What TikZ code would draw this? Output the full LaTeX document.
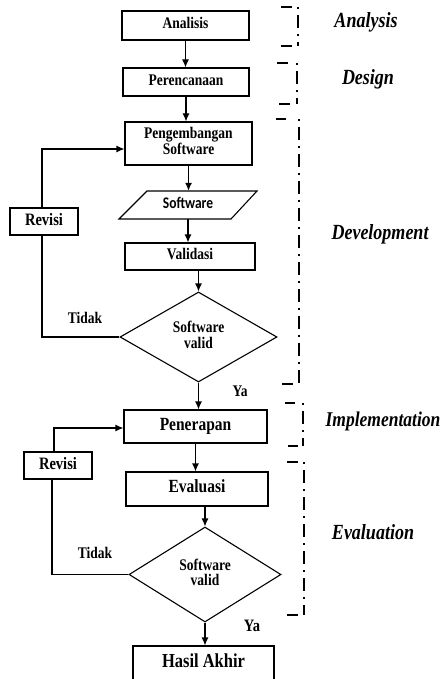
\documentclass[tikz,border=0pt]{standalone}
\usepackage{fontspec}
\usepackage{graphicx}
\setmainfont{Liberation Serif}
\newfontfamily\calfont{Carlito}
\usetikzlibrary{shapes.geometric,arrows.meta}
\newcommand\tallt[1]{\scalebox{1}[1.2]{\begin{tabular}{@{}c@{}}#1\end{tabular}}}
\begin{document}
\begin{tikzpicture}[x=1pt,y=-1pt,
  ln/.style={line width=1.1pt},
  arr/.style={line width=1.1pt,-{Latex[length=8pt,width=7pt]}},
  box/.style={draw,line width=1.1pt,inner sep=0pt,align=center,font=\bfseries\fontsize{13.5}{12.5}\selectfont},
  boxb/.style={box,font=\bfseries\fontsize{15.5}{14}\selectfont},
  dia/.style={draw,diamond,line width=1.1pt,inner sep=0pt,align=center,font=\bfseries\fontsize{13.5}{11.5}\selectfont},
  lbl/.style={inner sep=0pt,font=\bfseries\fontsize{13.5}{15}\selectfont},
  stage/.style={inner sep=0pt,font=\bfseries\itshape\fontsize{18}{20}\selectfont},
  tick/.style={line width=2.2pt},
  vbar/.style={line width=2.6pt,dash pattern=on 2pt off 6pt on 13pt off 6pt}
]
\useasboundingbox (0,0) rectangle (444,679);

% upper flow
\node[box,minimum width=127pt,minimum height=29pt] (ana) at (185.5,25.5) {\tallt{Analisis}};
\node[box,minimum width=126pt,minimum height=28pt] (per) at (186,82) {\tallt{Perencanaan}};
\node[box,minimum width=127pt,minimum height=43pt] (peng) at (188.5,143.5) {\tallt{Pengembangan\\Software}};
\node[inner sep=0pt,minimum width=110pt,minimum height=28pt,font=\calfont\bfseries\fontsize{13.5}{15}\selectfont] (sw) at (188,205) {\tallt{Software}};
\draw[ln] (147,191) -- (257,191) -- (231,219) -- (119,219) -- cycle;
\node[box,minimum width=130pt,minimum height=27pt] (val) at (190,256.5) {\tallt{Validasi}};
\node[dia,minimum width=157pt,minimum height=90pt] (d1) at (198.5,337) {\raisebox{3pt}{\tallt{Software\\valid}}};
\node[box,minimum width=68pt,minimum height=27pt,font=\bfseries\fontsize{14.5}{15}\selectfont] (rev1) at (44,221.5) {\tallt{Revisi}};
\node[lbl] (t1) at (85,320) {\tallt{Tidak}};
\node[lbl] (y1) at (240,393) {\tallt{Ya}};

% lower flow
\node[boxb,minimum width=143pt,minimum height=33pt] (pen) at (195.5,426.5) {\tallt{Penerapan}};
\node[boxb,minimum width=68pt,minimum height=27pt,font=\bfseries\fontsize{14.5}{15}\selectfont] (rev2) at (58,465.5) {\tallt{Revisi}};
\node[boxb,minimum width=142pt,minimum height=34pt] (eva) at (197,489) {\tallt{Evaluasi}};
\node[dia,minimum width=152pt,minimum height=95pt] (d2) at (205,574.5) {\raisebox{3pt}{\tallt{Software\\valid}}};
\node[lbl] (t2) at (95,555) {\tallt{Tidak}};
\node[lbl,font=\bfseries\fontsize{14.5}{15}\selectfont] (y2) at (252,628) {\tallt{Ya}};
\node[box,font=\bfseries\fontsize{16.5}{18}\selectfont,minimum width=141pt,minimum height=35pt] (has) at (203.5,663.5) {\raisebox{4pt}{\tallt{Hasil Akhir}}};

% arrows
\draw[arr] (ana.south) -- (ana.south |- per.north);
\draw[arr] (per.south) -- (per.south |- peng.north);
\draw[arr] (peng.south) -- (peng.south |- sw.north);
\draw[arr] (sw.south) -- (sw.south |- val.north);
\draw[arr] (val.south -| d1.north) -- (d1.north);
\draw[arr] (d1.south) -- (d1.south |- pen.north);
\draw[arr] (pen.south) -- (pen.south |- eva.north);
\draw[arr] (eva.south -| d2.north) -- (d2.north);
\draw[arr] (d2.south) -- (d2.south |- has.north);
\draw[ln] (d1.west) -| ([xshift=-2pt]rev1.south);
\draw[arr] ([xshift=-2pt]rev1.north) |- ([yshift=-5.5pt]peng.west);
\draw[ln] (d2.west) -| ([xshift=-6pt]rev2.south);
\draw[arr] ([xshift=-4pt]rev2.north) |- ([yshift=-1.5pt]pen.west);

% stage brackets
\draw[tick] (281,7) -- (292,7);   \draw[vbar] (298,7) -- (298,46);   \draw[tick] (281,46) -- (292,46);
\draw[tick] (277,63) -- (288,63); \draw[vbar] (297,63) -- (297,104); \draw[tick] (279,104) -- (290,104);
\draw[tick] (276,119) -- (286,119); \draw[vbar] (299,119) -- (299,384); \draw[tick] (282,384) -- (293,384);
\draw[tick] (285,403) -- (295,403); \draw[vbar] (303,403) -- (303,446); \draw[tick] (288,446) -- (298,446);
\draw[tick] (287,462) -- (298,462); \draw[vbar] (304,462) -- (304,615); \draw[tick] (287,615) -- (298,615);

% stage labels
\node[stage] (sa) at (366,23) {\tallt{Analysis}};
\node[stage] (sd) at (368,80) {\tallt{Design}};
\node[stage] (sv) at (380,235) {\tallt{Development}};
\node[stage,font=\bfseries\itshape\fontsize{17.5}{20}\selectfont] (si) at (383,422) {\tallt{Implementation}};
\node[stage] (se) at (373,535) {\tallt{Evaluation}};
\end{tikzpicture}
\end{document}
